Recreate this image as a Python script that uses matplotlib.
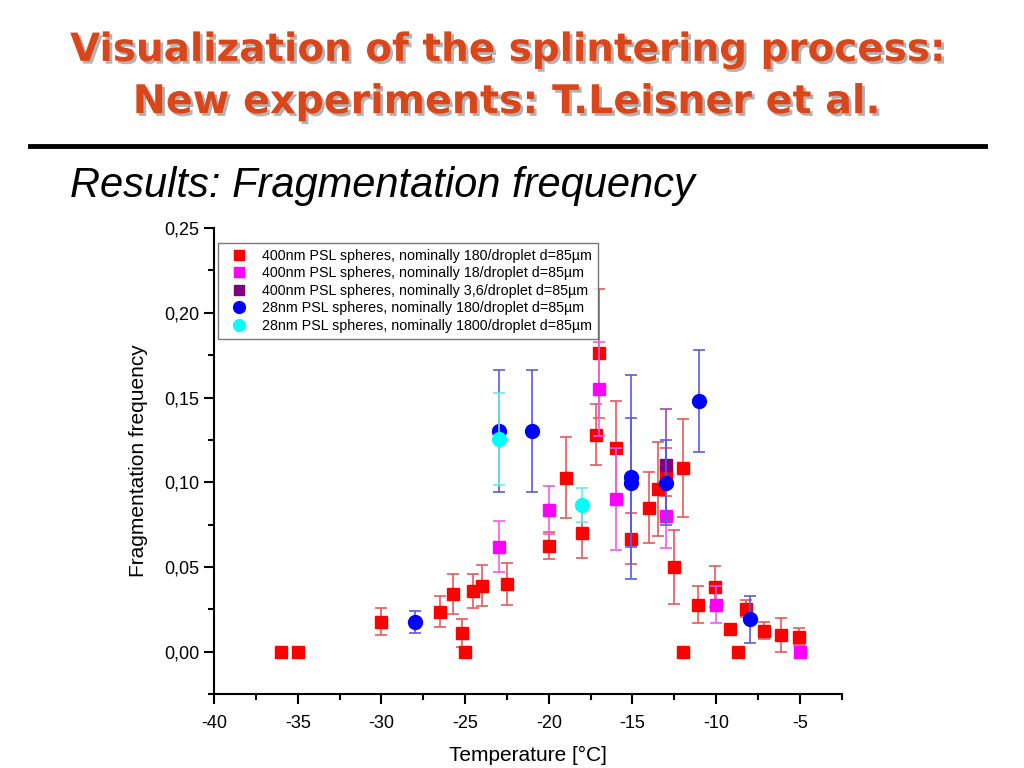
import matplotlib.pyplot as plt
import matplotlib.patheffects as pe
from matplotlib.ticker import MultipleLocator, FuncFormatter
from matplotlib.lines import Line2D

plt.rcParams['axes.unicode_minus'] = False
plt.rcParams['font.family'] = ['Liberation Sans', 'DejaVu Sans']

# 400nm PSL, nominally 180/droplet
red_t = [-36, -35, -30, -26.5, -25.7, -25.2, -25, -24.5, -24, -22.5, -20, -19, -18,
         -17.2, -17, -16, -15.1, -14, -13.5, -13, -12.5, -12, -12, -11.1, -10.1,
         -9.2, -8.7, -8.2, -7.15, -6.1, -5.05]
red_f = [0, 0, 0.0177, 0.0236, 0.034, 0.011, 0, 0.036, 0.039, 0.040, 0.0625, 0.1026, 0.070,
         0.128, 0.176, 0.120, 0.0666, 0.085, 0.096, 0.106, 0.050, 0.1085, 0, 0.0277, 0.0383,
         0.0135, 0, 0.0254, 0.0124, 0.010, 0.0088]
red_e = [0, 0, 0.008, 0.009, 0.012, 0.008, 0, 0.010, 0.012, 0.0125, 0.008, 0.024, 0.015,
         0.018, 0.038, 0.028, 0.015, 0.021, 0.028, 0.014, 0.022, 0.029, 0, 0.011, 0.012,
         0.002, 0, 0.005, 0.005, 0.010, 0.005]

# 400nm PSL, nominally 18/droplet
mag_t = [-23, -20, -17, -16, -13, -10, -5]
mag_f = [0.062, 0.0837, 0.155, 0.090, 0.080, 0.0277, 0.0]
mag_e = [0.015, 0.014, 0.028, 0.030, 0.019, 0.011, 0.0]

# 400nm PSL, nominally 3,6/droplet
pur_t = [-13]
pur_f = [0.110]
pur_e = [0.033]

# 28nm PSL, nominally 180/droplet
blu_t = [-28, -23, -21, -15.1, -15.1, -13, -11, -8]
blu_f = [0.0177, 0.130, 0.130, 0.103, 0.0997, 0.0997, 0.148, 0.019]
blu_e = [0.0065, 0.036, 0.036, 0.060, 0.038, 0.025, 0.030, 0.014]

# 28nm PSL, nominally 1800/droplet
cya_t = [-23, -18]
cya_f = [0.1256, 0.0867]
cya_e = [0.027, 0.010]

series = [
    (red_t, red_f, red_e, '#ff0000', '#e85a5a', 's', 9,
     '400nm PSL spheres, nominally 180/droplet d=85\u00b5m'),
    (mag_t, mag_f, mag_e, '#ff00ff', '#ee5cee', 's', 9,
     '400nm PSL spheres, nominally 18/droplet d=85\u00b5m'),
    (pur_t, pur_f, pur_e, '#800080', '#9a4aa8', 's', 9,
     '400nm PSL spheres, nominally 3,6/droplet d=85\u00b5m'),
    (blu_t, blu_f, blu_e, '#0000ff', '#5a5ae6', 'o', 10,
     '28nm PSL spheres, nominally 180/droplet d=85\u00b5m'),
    (cya_t, cya_f, cya_e, '#00ffff', '#6ae8e8', 'o', 10,
     '28nm PSL spheres, nominally 1800/droplet d=85\u00b5m'),
]

fig = plt.figure(figsize=(10.24, 7.68), dpi=100)

# slide header
title_fx = [pe.withSimplePatchShadow(offset=(2, -2), shadow_rgbFace='#a0a0a0', alpha=0.8)]
fig.text(0.495, 0.935, 'Visualization of the splintering process:', ha='center', va='center',
         fontsize=28, fontweight='bold', color='#d9461a', family='DejaVu Sans',
         path_effects=title_fx)
fig.text(0.495, 0.867, 'New experiments: T.Leisner et al.', ha='center', va='center',
         fontsize=28.5, fontweight='bold', color='#d9461a', family='DejaVu Sans',
         path_effects=title_fx)
fig.add_artist(Line2D([0.029, 0.962], [0.810, 0.810], color='black', lw=3.5))
fig.text(0.068, 0.758, 'Results: Fragmentation frequency', ha='left', va='center',
         fontsize=30, style='italic', color='black')

ax = fig.add_axes([0.209, 0.0964, 0.613, 0.6066])

for t, f, e, c, ec, m, ms, lab in series:
    ax.errorbar(t, f, yerr=e, fmt='none', ecolor=ec, elinewidth=1.2, capsize=4.5, capthick=1.2)
    ax.plot(t, f, ls='none', marker=m, ms=ms, color=c, mec=c, label=lab)

ax.set_xlim(-40, -2.5)
ax.set_ylim(-0.025, 0.25)
ax.xaxis.set_major_locator(MultipleLocator(5))
ax.xaxis.set_minor_locator(MultipleLocator(2.5))
ax.yaxis.set_major_locator(MultipleLocator(0.05))
ax.yaxis.set_minor_locator(MultipleLocator(0.025))
ax.yaxis.set_major_formatter(FuncFormatter(lambda v, p: ('%.2f' % v).replace('.', ',')))
ax.xaxis.set_major_formatter(FuncFormatter(lambda v, p: '%d' % v))
ax.spines['top'].set_visible(False)
ax.spines['right'].set_visible(False)
ax.spines['left'].set_linewidth(1.5)
ax.spines['bottom'].set_linewidth(1.5)
ax.tick_params(which='major', direction='out', length=7, width=1.5, labelsize=13)
ax.tick_params(axis='x', which='major', pad=8)
ax.tick_params(which='minor', direction='out', length=4, width=1.5)
ax.set_xlabel('Temperature [\u00b0C]', fontsize=15, labelpad=10)
ax.set_ylabel('Fragmentation frequency', fontsize=15, labelpad=12)

leg = ax.legend(loc='upper left', bbox_to_anchor=(0.006, 0.968), fontsize=10.3, frameon=True,
                fancybox=False, edgecolor='#555555', handlelength=2.1, handletextpad=0.6,
                borderpad=0.4, labelspacing=0.25, markerscale=0.85, borderaxespad=0)
leg.get_frame().set_linewidth(1.0)
leg.set_zorder(5)

fig.savefig('out.png', dpi=100)
